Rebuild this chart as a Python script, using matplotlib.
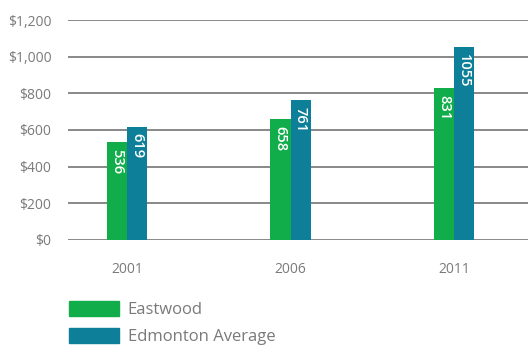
import matplotlib
matplotlib.use("Agg")
import matplotlib.pyplot as plt
from matplotlib.patches import Patch
import numpy as np

years = ["2001", "2006", "2011"]
eastwood = [536, 658, 831]
edmonton = [619, 761, 1055]
series_names = ["Eastwood", "Edmonton Average"]
yticks = [0, 200, 400, 600, 800, 1000, 1200]
ytick_labels = ["$0", "$200", "$400", "$600", "$800", "$1,000", "$1,200"]

green = "#12AD4B"
blue = "#0E7F99"
txt = "#7a7a7a"

plt.rcParams['font.family'] = ['Open Sans', 'DejaVu Sans']

fig = plt.figure(figsize=(5.28, 3.46), dpi=100)
ax = fig.add_axes([68/528, 1-240/346, 1-68/528, 220/346])

x = np.arange(len(years))
w = 0.123
b1 = ax.bar(x - w/2, eastwood, w, color=green, zorder=3)
b2 = ax.bar(x + w/2, edmonton, w, color=blue, zorder=3)

for bars, vals in ((b1, eastwood), (b2, edmonton)):
    for r, v in zip(bars, vals):
        ax.annotate(str(v), (r.get_x() + r.get_width()/2, v), xytext=(0, -5),
                    textcoords="offset points", rotation=270, ha="center", va="top",
                    color="white", fontsize=10.5, fontweight="semibold", zorder=4)

ax.set_ylim(0, 1200)
ax.set_xlim(-0.36, 2.45)
ax.set_yticks(yticks)
ax.set_yticklabels(ytick_labels)
ax.set_xticks(x)
ax.set_xticklabels(years)
ax.yaxis.grid(True, color="#7f7f7f", linewidth=1.3, zorder=0)
ax.tick_params(axis="both", length=0, colors=txt, labelsize=10)
ax.tick_params(axis="y", pad=12)
ax.tick_params(axis="x", pad=16)
for s in ax.spines.values():
    s.set_visible(False)

handles = [Patch(color=green), Patch(color=blue)]
fig.legend(handles, series_names, loc="upper left", bbox_to_anchor=(62/528, 1-294/346),
           frameon=False, fontsize=12, handlelength=3.0, handleheight=1.0,
           labelcolor=txt, labelspacing=0.62, handletextpad=0.55, borderaxespad=0)

fig.savefig("out.png", dpi=100)
